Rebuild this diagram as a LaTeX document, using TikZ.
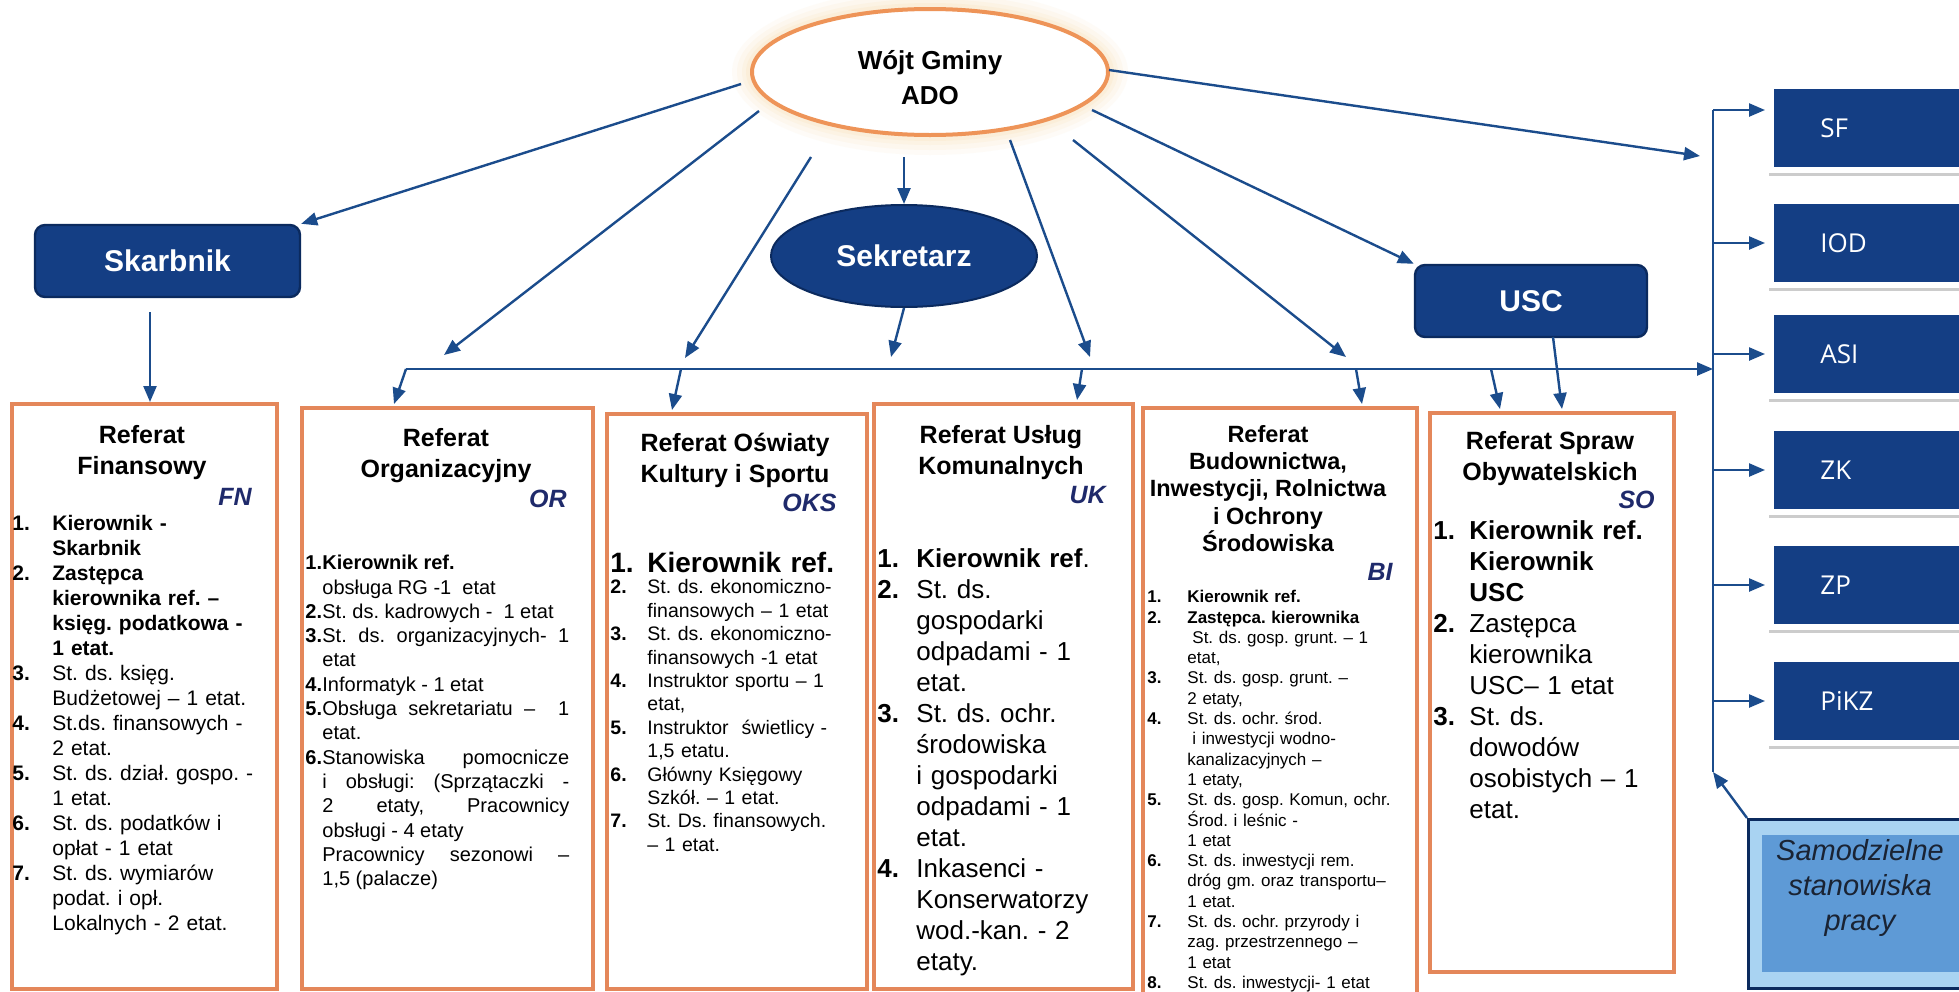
\documentclass[tikz,border=0pt]{standalone}
\usepackage{fontspec}
\setmainfont{Liberation Sans}
\newfontfamily\osans{Open Sans}
\usetikzlibrary{shapes.geometric,arrows.meta}
\definecolor{navy}{HTML}{143E84}
\definecolor{navyd}{HTML}{0B2A5E}
\definecolor{arrc}{HTML}{1B4C8C}
\definecolor{orng}{HTML}{E4875A}
\definecolor{orng2}{HTML}{EE9458}
\definecolor{codec}{HTML}{1F2A6B}
\definecolor{glowc}{HTML}{F9D8A0}
\definecolor{samout}{HTML}{A9D3F2}
\definecolor{samin}{HTML}{5E9AD6}
\definecolor{samtxt}{HTML}{1A2333}
\newcommand\fz[2]{\fontsize{#1pt}{#2pt}\selectfont}
\newcommand\nl{\hfil\break}
\newcommand\itm[3]{\par\hangindent=#1\hangafter=1\noindent\makebox[#1][l]{\bfseries #2}#3\par}
\begin{document}
\frenchspacing
\begin{tikzpicture}[x=0.5pt,y=-0.5pt,
  every node/.style={inner sep=0pt},
  arr/.style={draw=arrc, line width=1.2pt, -{Triangle[length=8pt,width=6.5pt]}},
  ln/.style={draw=arrc, line width=1.2pt},
  refbox/.style={draw=orng, line width=2pt, fill=white, anchor=north west},
  ttl/.style={font=\bfseries\fz{12.5}{15.5}, align=center, anchor=north},
  code/.style={font=\bfseries\itshape\fz{12.5}{15}, text=codec, anchor=east},
  lst/.style={anchor=north west, align=left, execute at begin node={\tolerance=10000\hbadness=10000\relax}},
  dbox/.style={rectangle, rounded corners=5pt, fill=navy, draw=navyd, line width=1.2pt, text=white, font=\bfseries\fz{15}{18}},
  rbox/.style={rectangle, fill=navy, anchor=west, minimum width=102pt, minimum height=39pt},
  rlab/.style={anchor=west, text=white, font=\osans\fz{13}{15}}
]
\useasboundingbox (0,0) rectangle (1959,991);
\clip (0,0) rectangle (1959,991);
\fill[white] (0,0) rectangle (1959,991);

% ---- Wojt ----
\foreach \rx/\ry/\op in {198/83/0.08,193/78/0.10,188/73/0.12,184/69/0.16}
  {\fill[glowc, opacity=\op] (930,72) ellipse [x radius=\rx, y radius=\ry];}
\node[ellipse, draw=orng2, line width=2pt, fill=white, minimum width=178pt, minimum height=63pt] (wojt) at (930,72) {};
\node[font=\bfseries\fz{13}{17.5}, align=center] (wojtt) at (930,78) {Wójt Gminy\\ADO};

\node[ellipse, fill=navy, draw=navyd, line width=1pt, minimum width=133pt, minimum height=51pt,
  text=white, font=\bfseries\fz{15}{18}] (sek) at (904,256) {Sekretarz};

\node[dbox, minimum width=132.5pt, minimum height=36pt] (skarbnik) at (167.5,261) {Skarbnik};
\node[dbox, minimum width=116pt, minimum height=36pt] (usc) at (1531,301) {USC};

% ---- Referat boxes ----
\node[refbox, minimum width=132.5pt, minimum height=292.5pt] (fn) at (10,402) {};
\node[refbox, minimum width=145.5pt, minimum height=290.5pt] (or) at (300,406) {};
\node[refbox, minimum width=130pt, minimum height=287.5pt] (oks) at (605,412) {};
\node[refbox, minimum width=129.5pt, minimum height=292.5pt] (uk) at (872,402) {};
\node[refbox, minimum width=137pt, minimum height=302pt] (bi) at (1141,406) {};
\node[refbox, minimum width=122pt, minimum height=279.5pt] (so) at (1428,411) {};

% FN
\node[ttl] (fnt) at (142,425) {Referat\\Finansowy};
\node[code] (fnc) at (252,497) {FN};
\node[lst, text width=128pt, font=\fz{10.5}{12.5}] (fnl) at (12,505) {%
\itm{20pt}{1.}{\textbf{Kierownik -\nl Skarbnik}}%
\itm{20pt}{2.}{\textbf{Zastępca\nl kierownika ref. –\nl księg. podatkowa -\nl 1 etat.}}%
\itm{20pt}{3.}{St. ds. księg.\nl Budżetowej – 1 etat.}%
\itm{20pt}{4.}{St.ds. finansowych -\nl 2 etat.}%
\itm{20pt}{5.}{St. ds. dział. gospo. -\nl 1 etat.}%
\itm{20pt}{6.}{St. ds. podatków i\nl opłat - 1 etat}%
\itm{20pt}{7.}{St. ds. wymiarów\nl podat. i opł.\nl Lokalnych - 2 etat.}};

% OR
\node[ttl] (ort) at (446,428) {Referat\\Organizacyjny};
\node[code] (orc) at (567,499) {OR};
\node[lst, align=justify, text width=132pt, font=\fz{10}{12.15}] (orl) at (305,545) {%
\itm{8.5pt}{1.}{\textbf{Kierownik ref.}\nl obsługa RG -1~ etat}%
\itm{8.5pt}{2.}{St. ds. kadrowych -~ 1 etat}%
\itm{8.5pt}{3.}{St. ds. organizacyjnych- 1\linebreak etat}%
\itm{8.5pt}{4.}{Informatyk - 1 etat}%
\itm{8.5pt}{5.}{Obsługa sekretariatu –~ 1\linebreak etat.}%
\itm{8.5pt}{6.}{Stanowiska pomocnicze\linebreak i obsługi: (Sprzątaczki -\linebreak 2 etaty, Pracownicy\linebreak obsługi - 4 etaty\nl Pracownicy sezonowi –\linebreak 1,5 (palacze)}};

% OKS
\node[ttl] (okst) at (735,433) {Referat Oświaty\\Kultury i Sportu};
\node[code] (oksc) at (837,503) {OKS};
\node[lst, text width=125pt, font=\fz{14}{16}] (oksk) at (610,540) {%
\itm{18.5pt}{1.}{\textbf{Kierownik ref.}}};
\node[lst, text width=125pt, font=\fz{9.75}{11.7}] (oksl) at (610,570) {%
\itm{18.5pt}{2.}{St. ds. ekonomiczno-\nl finansowych – 1 etat}%
\itm{18.5pt}{3.}{St. ds. ekonomiczno-\nl finansowych -1 etat}%
\itm{18.5pt}{4.}{Instruktor sportu – 1\nl etat,}%
\itm{18.5pt}{5.}{Instruktor~ świetlicy -\nl 1,5 etatu.}%
\itm{18.5pt}{6.}{Główny Księgowy\nl Szkół. – 1 etat.}%
\itm{18.5pt}{7.}{St. Ds. finansowych.\nl – 1 etat.}};

% UK
\node[ttl] (ukt) at (1001,425) {Referat Usług\\Komunalnych};
\node[code] (ukc) at (1106,495) {UK};
\node[lst, text width=122pt, font=\fz{13}{15.5}] (ukl) at (877,536) {%
\itm{19.5pt}{1.}{\textbf{Kierownik ref}.}%
\itm{19.5pt}{2.}{St. ds.\nl gospodarki\nl odpadami - 1\nl etat.}%
\itm{19.5pt}{3.}{St. ds. ochr.\nl środowiska\nl i gospodarki\nl odpadami - 1\nl etat.}%
\itm{19.5pt}{4.}{Inkasenci -\nl Konserwatorzy\nl wod.-kan. - 2\nl etaty.}};

% BI
\node[ttl, font=\bfseries\fz{11.75}{13.6}] (bit) at (1268,425) {Referat\\Budownictwa,\\Inwestycji, Rolnictwa\\i Ochrony\\Środowiska};
\node[code] (bic) at (1393,572) {BI};
\node[lst, text width=132pt, font=\fz{8.5}{10.15}] (bil) at (1147,582) {%
\itm{20pt}{1.}{\textbf{Kierownik ref.}}%
\itm{20pt}{2.}{\textbf{Zastępca. kierownika}\nl\hspace*{2.5pt}St. ds. gosp. grunt. – 1\nl etat,}%
\itm{20pt}{3.}{St. ds. gosp. grunt. –\nl 2 etaty,}%
\itm{20pt}{4.}{St. ds. ochr. środ.\nl\hspace*{2.5pt}i inwestycji wodno-\nl kanalizacyjnych –\nl 1 etaty,}%
\itm{20pt}{5.}{St. ds. gosp. Komun, ochr.\nl Środ. i leśnic -\nl 1 etat}%
\itm{20pt}{6.}{St. ds. inwestycji rem.\nl dróg gm. oraz transportu–\nl 1 etat.}%
\itm{20pt}{7.}{St. ds. ochr. przyrody i\nl zag. przestrzennego –\nl 1 etat}%
\itm{20pt}{8.}{St. ds. inwestycji- 1 etat}};

% SO
\node[ttl] (sot) at (1550,431) {Referat Spraw\\Obywatelskich};
\node[code] (soc) at (1655,500) {SO};
\node[lst, text width=117pt, font=\fz{13}{15.5}] (sol) at (1433,508) {%
\itm{18pt}{1.}{\textbf{Kierownik ref.\nl Kierownik\nl USC}}%
\itm{18pt}{2.}{Zastępca\nl kierownika\nl USC– 1 etat}%
\itm{18pt}{3.}{St. ds.\nl dowodów\nl osobistych – 1\nl etat.}};

% ---- right column ----
\foreach \nm/\lab/\cy in {sf/SF/128, iod/IOD/243, asi/ASI/354, zk/ZK/470, zp/ZP/585, pikz/PiKZ/701}{
  \fill[black!20] (1769,\cy-35) rectangle (1975,\cy+48);
  \fill[white] (1766,\cy-46) rectangle (1975,\cy+45);
  \node[rbox] (\nm) at (1774,\cy) {};
  \node[rlab] (\nm-t) at (1820,\cy) {\lab};
}

% Samodzielne
\node[rectangle, anchor=north west, fill=samout, draw=navyd, line width=1.5pt,
  minimum width=114pt, minimum height=84.5pt] (sam) at (1747,818) {};
\fill[samin] (1762,835) rectangle (1975,972);
\node[font=\itshape\fz{14.5}{17.5}, text=samtxt, align=center] (samt) at (1860,888) {Samodzielne\\stanowiska\\pracy};

% ---- coordinates ----
\coordinate (w1) at (741,84);
\coordinate (w2) at (759,111);
\coordinate (w3) at (811,157);
\coordinate (w5) at (1010,140);
\coordinate (w6) at (1073,140);
\coordinate (w7) at (1092,110);
\coordinate (w8) at (1109,70);
\coordinate (b1) at (444,355);
\coordinate (b2) at (685,358);
\coordinate (b3) at (891,357);
\coordinate (b4) at (1090,357);
\coordinate (b5) at (1346,357);
\coordinate (sfin) at (1700,156);
\coordinate (busL) at (406,369);
\coordinate (vtop) at (1713,110);
\coordinate (vbot) at (1713,772);
\coordinate (s1) at (150,312);
\coordinate (d1) at (394,404);
\coordinate (d2s) at (681,369); \coordinate (d2e) at (672,410);
\coordinate (d3s) at (1082,369); \coordinate (d3e) at (1077,400);
\coordinate (d4s) at (1356,369); \coordinate (d4e) at (1362,404);
\coordinate (d5s) at (1491,369); \coordinate (d5e) at (1500,409);
\coordinate (u1) at (1553,337); \coordinate (u1e) at (1562,409);

% ---- connectors ----
\draw[arr] (w1) -- (skarbnik.north east);
\draw[arr] (w2) -- (b1);
\draw[arr] (w3) -- (b2);
\draw[arr] (sek.north |- w3) -- (sek.north);
\draw[arr] (w5) -- (b4);
\draw[arr] (w6) -- (b5);
\draw[arr] (w7) -- (usc.north west);
\draw[arr] (w8) -- (sfin);
\draw[arr] (sek.south) -- (b3);
\draw[arr] (s1) -- (s1 |- fn.north);
\draw[arr] (busL) -- (vtop |- busL);
\draw[arr] (busL) -- (d1);
\draw[arr] (d2s) -- (d2e);
\draw[arr] (d3s) -- (d3e);
\draw[arr] (d4s) -- (d4e);
\draw[arr] (d5s) -- (d5e);
\draw[arr] (u1) -- (u1e);
\draw[ln] (vtop) -- (vbot);
\draw[arr, shorten >=4.5pt] (vtop) -- (vtop -| sf.west);
\foreach \nm in {iod,asi,zk,zp,pikz}{\draw[arr, shorten >=4.5pt] (vtop |- \nm.west) -- (\nm.west);}
\draw[arr] (sam.north west) -- (vbot);
\end{tikzpicture}
\end{document}
